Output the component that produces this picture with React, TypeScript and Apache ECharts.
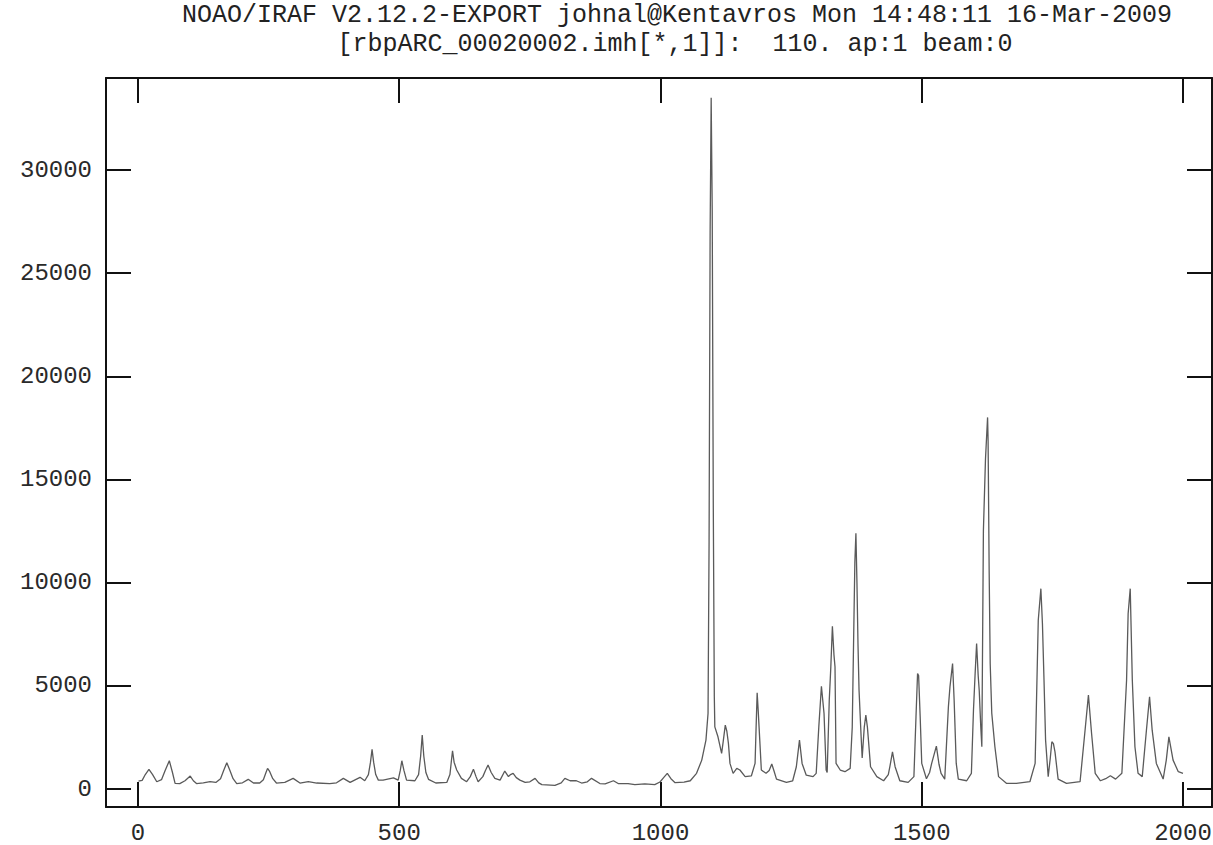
import React, { useEffect, useRef } from "react";
import * as echarts from "echarts";

const titleLine1 = "NOAO/IRAF V2.12.2-EXPORT johnal@Kentavros Mon 14:48:11 16-Mar-2009";
const titleLine2 = "[rbpARC_00020002.imh[*,1]]:  110. ap:1 beam:0";

const xTicks = [0, 500, 1000, 1500, 2000];
const yTicks = [0, 5000, 10000, 15000, 20000, 25000, 30000];

const pixels = [
  1, 8, 14, 21, 28, 36, 45, 52, 60, 66, 71, 80, 90, 100, 106, 112, 125, 138, 149, 158,
  164, 170, 176, 182, 189, 200, 211, 221, 233, 240, 245, 248, 252, 258, 265, 281, 297, 310, 326, 342,
  367, 380, 393, 406, 425, 434, 441, 445, 448, 451, 455, 460, 469, 489, 498, 502, 505, 509, 514, 530,
  537, 541, 544, 547, 551, 556, 570, 591, 597, 600, 602, 605, 610, 619, 629, 636, 642, 647, 651, 660,
  665, 670, 676, 683, 693, 702, 709, 713, 718, 724, 731, 741, 750, 760, 767, 773, 798, 810, 817, 827,
  839, 849, 860, 868, 884, 894, 910, 919, 938, 951, 970, 989, 999, 1006, 1013, 1020, 1028, 1045, 1057, 1069,
  1079, 1087, 1091, 1093, 1095, 1097, 1099, 1101, 1103, 1104, 1110, 1117, 1120, 1124, 1127, 1130, 1133, 1139, 1146, 1152,
  1162, 1174, 1181, 1183, 1185, 1187, 1190, 1193, 1202, 1208, 1213, 1217, 1222, 1241, 1253, 1260, 1266, 1271, 1279, 1292,
  1298, 1303, 1308, 1313, 1317, 1319, 1323, 1326, 1329, 1332, 1334, 1336, 1344, 1353, 1363, 1367, 1370, 1372, 1374, 1376,
  1378, 1380, 1384, 1386, 1390, 1393, 1396, 1398, 1402, 1414, 1427, 1436, 1439, 1444, 1449, 1458, 1474, 1485, 1489, 1492,
  1494, 1497, 1500, 1509, 1515, 1519, 1528, 1533, 1537, 1544, 1551, 1554, 1559, 1562, 1566, 1570, 1586, 1595, 1599, 1602,
  1605, 1608, 1610, 1613, 1615, 1618, 1622, 1626, 1627, 1629, 1631, 1634, 1640, 1647, 1662, 1681, 1707, 1717, 1723, 1728,
  1731, 1734, 1737, 1742, 1746, 1749, 1752, 1755, 1761, 1777, 1803, 1812, 1819, 1825, 1832, 1842, 1852, 1861, 1871, 1883,
  1892, 1895, 1899, 1903, 1908, 1914, 1922, 1930, 1936, 1941, 1949, 1962, 1968, 1973, 1981, 1991, 2000,
];

const counts = [
  380, 420, 700, 950, 700, 353, 450, 900, 1370, 800, 275, 264, 400, 629, 400, 264, 300, 353, 320, 500,
  900, 1273, 900, 500, 264, 300, 469, 290, 290, 450, 800, 1000, 850, 500, 290, 320, 517, 290, 353, 290,
  264, 300, 517, 320, 566, 400, 700, 1300, 1920, 1300, 700, 430, 430, 540, 430, 900, 1370, 900, 430, 400,
  700, 1600, 2612, 1600, 800, 470, 290, 320, 700, 1400, 1853, 1300, 920, 517, 353, 600, 953, 600, 353, 600,
  900, 1160, 800, 517, 430, 870, 600, 700, 760, 550, 430, 320, 350, 517, 300, 210, 180, 300, 517, 400,
  400, 290, 350, 517, 264, 250, 400, 264, 264, 210, 250, 210, 340, 550, 760, 500, 305, 330, 400, 760,
  1400, 2370, 3660, 12000, 27000, 33500, 28000, 14000, 4500, 3010, 2530, 1730, 2300, 3100, 2800, 2210, 1240, 760, 1000, 920,
  600, 640, 1240, 3000, 4660, 3800, 2370, 920, 760, 900, 1210, 900, 480, 320, 400, 1080, 2370, 1240, 670, 600,
  760, 3010, 4980, 3660, 920, 800, 4300, 5920, 7890, 6500, 5920, 1240, 920, 840, 1000, 3000, 7850, 11000, 12400, 10000,
  7000, 4790, 2530, 1500, 3000, 3580, 3000, 2370, 1080, 600, 400, 700, 1080, 1800, 1080, 400, 320, 600, 3500, 5600,
  5500, 3500, 1240, 500, 800, 1240, 2080, 1200, 760, 480, 3980, 4950, 6080, 4300, 1240, 480, 400, 760, 3820, 5500,
  7050, 5500, 4790, 3000, 2050, 12530, 16000, 18010, 16880, 10600, 6080, 3680, 2050, 600, 280, 276, 353, 1240, 8180, 9710,
  8000, 5270, 2370, 600, 1500, 2290, 2200, 1800, 480, 276, 353, 2700, 4550, 2700, 760, 400, 500, 640, 480, 760,
  5270, 8500, 9710, 5270, 2050, 760, 600, 2850, 4470, 2850, 1240, 480, 1400, 2530, 1400, 840, 760,
];

const X_MIN = -61.2;
const X_MAX = 2055.5;
const Y_MIN = -872;
const Y_MAX = 34459;

export default function App() {
  const ref = useRef<HTMLDivElement>(null);
  useEffect(() => {
    if (!ref.current) return;
    const chart = echarts.init(ref.current, undefined, { renderer: "svg" });
    const axisColor = "#111";
    const labelStyle = {
      fontFamily: "'Liberation Mono', monospace",
      fontSize: 24,
      color: "#2a2a2a",
      formatter: (v: number) => String(v),
    };
    const frameLine = { show: true, onZero: false, lineStyle: { color: axisColor, width: 2 } };
    const tick = (vals: number[]) => ({
      show: true,
      inside: true,
      length: 25,
      customValues: vals,
      lineStyle: { color: axisColor, width: 2 },
    });
    const data = pixels.map((p, i) => [p, counts[i]]);
    chart.setOption({
      animation: false,
      backgroundColor: "#ffffff",
      grid: {
        left: 106,
        top: 78,
        width: 1106,
        height: 729,
        show: false,
        containLabel: false,
        outerBoundsMode: "none",
      },
      xAxis: [
        {
          type: "value",
          position: "bottom",
          min: X_MIN,
          max: X_MAX,
          axisLine: frameLine,
          axisTick: tick(xTicks),
          axisLabel: { ...labelStyle, margin: 14, customValues: xTicks },
          splitLine: { show: false },
        },
        {
          type: "value",
          position: "top",
          min: X_MIN,
          max: X_MAX,
          axisLine: frameLine,
          axisTick: tick(xTicks),
          axisLabel: { show: false },
          splitLine: { show: false },
        },
      ],
      yAxis: [
        {
          type: "value",
          position: "left",
          min: Y_MIN,
          max: Y_MAX,
          axisLine: frameLine,
          axisTick: tick(yTicks),
          axisLabel: { ...labelStyle, margin: 14, customValues: yTicks },
          splitLine: { show: false },
        },
        {
          type: "value",
          position: "right",
          min: Y_MIN,
          max: Y_MAX,
          axisLine: frameLine,
          axisTick: tick(yTicks),
          axisLabel: { show: false },
          splitLine: { show: false },
        },
      ],
      graphic: [
        {
          type: "text",
          x: 677,
          y: 15,
          style: {
            text: titleLine1,
            align: "center",
            verticalAlign: "middle",
            fontFamily: "'Liberation Mono', monospace",
            fontSize: 25,
            fill: "#222",
          },
        },
        {
          type: "text",
          x: 675,
          y: 44,
          style: {
            text: titleLine2,
            align: "center",
            verticalAlign: "middle",
            fontFamily: "'Liberation Mono', monospace",
            fontSize: 25,
            fill: "#222",
          },
        },
      ],
      series: [
        {
          type: "line",
          xAxisIndex: 0,
          yAxisIndex: 0,
          data,
          showSymbol: false,
          symbol: "none",
          lineStyle: { color: "#5a5a5a", width: 1.3 },
          silent: true,
        },
      ],
    });
    return () => chart.dispose();
  }, []);
  return (
    <div
      ref={ref}
      style={{ position: "absolute", left: 0, top: 0, width: 1213, height: 845 }}
    />
  );
}
